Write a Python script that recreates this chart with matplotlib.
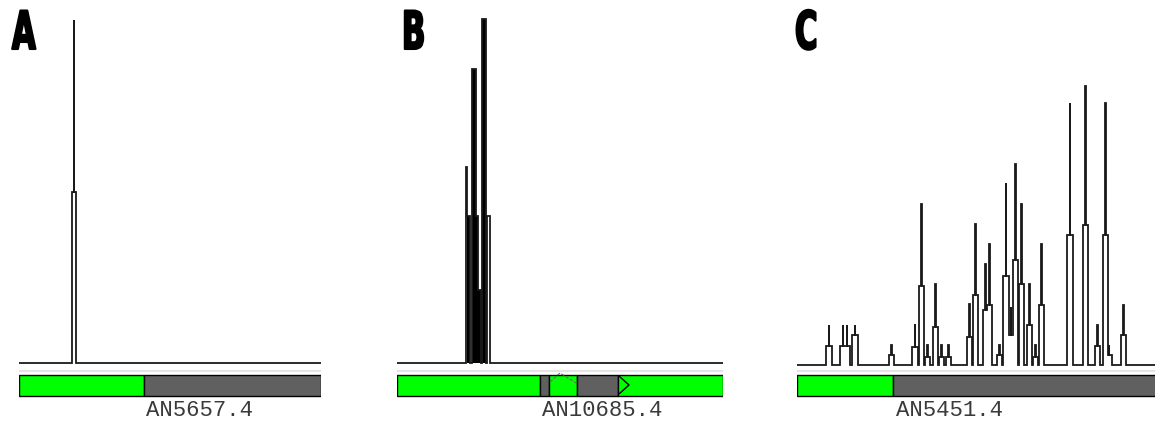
import matplotlib
matplotlib.use('Agg')
import matplotlib.pyplot as plt
from matplotlib.patches import Rectangle
from matplotlib.patheffects import AbstractPathEffect
from matplotlib.transforms import Affine2D

# ---- data (positions along each gene track, read depth) ----
panel_names = ['A', 'B', 'C']
gene_ids = ['AN5657.4', 'AN10685.4', 'AN5451.4']
track_len = [302, 326, 360]

# A: one peak (centre, top depth, shoulder depth)
a_pos = [55]
a_top = [343]
a_shoulder = [171]
a_seg_start = [0, 125]
a_seg_end = [125, 302]
a_seg_kind = ['utr', 'cds']

# B: dense block of reads (start, end, depth)
b_start = [69.0, 70.4, 74.7, 78.7, 81.3, 85.3, 90.3]
b_end = [70.4, 73.0, 78.7, 81.3, 84.0, 89.3, 93.0]
b_depth = [196, 147, 294, 147, 73, 344, 147]
b_seg_start = [0, 143, 152, 180, 221]
b_seg_end = [143, 152, 180, 221, 326]
b_seg_kind = ['utr', 'cds', 'utr', 'cds', 'utr']

# C: many peaks (centre, top depth, shoulder depth)
c_pos = [32, 46, 50, 58, 94.5, 118, 124.5, 130.7, 138.3, 144.7, 151.3,
         172.3, 178.3, 188.7, 192.3, 202.3, 209, 214, 218.7, 224.3, 232.3,
         238.7, 244.7, 273, 288.7, 300.7, 308.7, 312, 326.7]
c_top = [40, 40, 40, 40, 20, 41, 161, 20, 81, 20, 20,
         61, 141, 101, 121, 20, 182, 58, 201, 161, 81,
         20, 121, 262, 279, 40, 262, 20, 60]
c_shoulder = [19, 19, 19, 30, 10, 18, 79, 8, 38, 8, 8,
              28, 70, 55, 60, 10, 89, 30, 105, 81, 40,
              8, 60, 130, 140, 19, 130, 10, 30]
c_seg_start = [0, 96]
c_seg_end = [96, 360]
c_seg_kind = ['utr', 'cds']

seg_colors = {'utr': '#00ff00', 'cds': '#606060'}

W, H = 1155, 423
LINE = '#1a1a1a'


class Squeeze(AbstractPathEffect):
    """Horizontally condense text (heavy condensed panel letters)."""
    def __init__(self, sx, lw=0.0):
        super().__init__()
        self.sx = sx
        self.lw = lw

    def draw_path(self, renderer, gc, tpath, affine, rgbFace=None):
        gc0 = renderer.new_gc()
        gc0.copy_properties(gc)
        if self.lw:
            gc0.set_linewidth(self.lw)
            gc0.set_foreground('black')
        renderer.draw_path(gc0, tpath, Affine2D().scale(self.sx, 1) + affine, rgbFace)
        gc0.restore()


def coverage(starts, ends, heights, length):
    edges = sorted(set([0.0, float(length)] + list(starts) + list(ends)))
    vals = []
    for lo, hi in zip(edges[:-1], edges[1:]):
        mid = (lo + hi) / 2
        hs = [h for s, e, h in zip(starts, ends, heights) if s <= mid < e]
        vals.append(max(hs) if hs else 0)
    return vals, edges


def peaks_to_cols(pos, top, shoulder, sh_w, top_w=0.6):
    starts = [p - sh_w / 2 for p in pos] + [p - top_w / 2 for p in pos]
    ends = [p + sh_w / 2 for p in pos] + [p + top_w / 2 for p in pos]
    return starts, ends, list(shoulder) + list(top)


fig = plt.figure(figsize=(W / 100, H / 100), dpi=100)
fig.patch.set_facecolor('white')

# pixel layout of each panel: left edge, baseline, profile offset
layout = [(19, 363, 0), (397, 363, 0), (797, 363, -1.5)]
cols = [peaks_to_cols(a_pos, a_top, a_shoulder, 4.2),
        (b_start, b_end, b_depth),
        peaks_to_cols(c_pos, c_top, c_shoulder, 5.2)]
segs = [(a_seg_start, a_seg_end, a_seg_kind),
        (b_seg_start, b_seg_end, b_seg_kind),
        (c_seg_start, c_seg_end, c_seg_kind)]

for i in range(3):
    left, base, off = layout[i]
    L = track_len[i]
    ax = fig.add_axes([left / W, 0, L / W, 1])
    ax.set_xlim(0, L)
    ax.set_ylim(-(H - base), base)
    ax.axis('off')

    s, e, h = cols[i]
    if i == 1:
        # densely stacked reads render as solid black columns
        for k in range(1, 6):
            ax.bar((s[k] + e[k]) / 2, h[k], width=e[k] - s[k], color='black', lw=0)
    vals, edges = coverage(s, e, h, L)
    ax.stairs([v + off for v in vals], edges, baseline=None, color=LINE, lw=1.3)

    # light separator line
    ax.plot([0, L], [-7.5, -7.5], color='#e4e4e4', lw=1.5, solid_capstyle='butt')

    # gene model bar
    ss, se, sk = segs[i]
    for a, b, k in zip(ss, se, sk):
        ax.add_patch(Rectangle((a, -33), b - a, 21, facecolor=seg_colors[k],
                               edgecolor='black', lw=1.0))
    if i == 1:
        # intron connector and strand arrow
        a, b = ss[2], se[2]
        ax.plot([a + 1, (a + b) / 2 - 3, b - 1], [-19, -10, -20], color='#6a6a6a',
                lw=0.8, ls=(0, (3, 1.5)))
        a = ss[4]
        ax.plot([a + 1.5, a + 11, a + 1.5], [-13.5, -22, -30.5], color='black', lw=1.0)

    ax.text(ss[1] + 2.5, -47, gene_ids[i], ha='left', va='center',
            family=['Liberation Mono', 'DejaVu Sans Mono'], fontsize=16, color='#3a3a3a')

letter_x = [12, 402, 795]
for name, x in zip(panel_names, letter_x):
    fig.text(x / W, 1 - 49 / H, name, ha='left', va='baseline', fontsize=38,
             family='DejaVu Sans', weight='bold', color='black',
             path_effects=[Squeeze(0.58, lw=1.5)])

fig.savefig('out.png', dpi=100, facecolor='white')
